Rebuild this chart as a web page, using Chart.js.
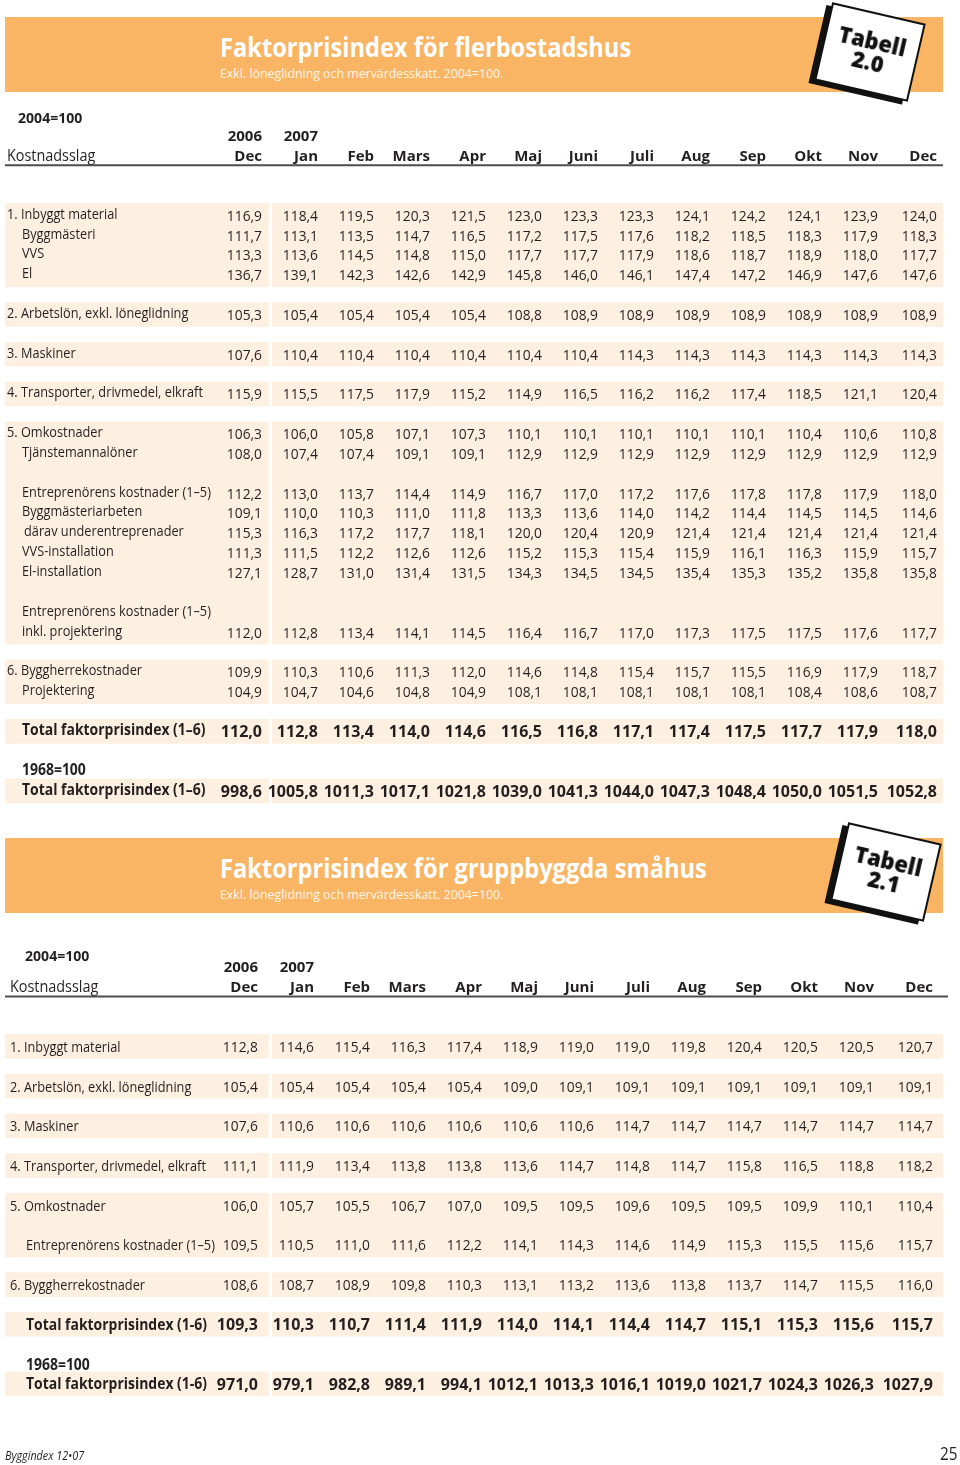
<!DOCTYPE html>
<html>
<head>
<meta charset="utf-8">
<script src="https://cdn.jsdelivr.net/npm/chart.js@4.4.1/dist/chart.umd.min.js"></script>
<style>
  body { margin: 0; background: #fff; width: 960px; height: 1465px; position: relative; overflow: hidden; font-family: 'Open Sans', sans-serif; color: #231f20; }
  #page { position: absolute; left: 0; top: 0; }
  .banner { position: absolute; left: 5px; width: 938px; height: 75px; background: #f9b563; }
  .title { position: absolute; left: 215px; top: 17px; color: #fff; font: 700 26px/26px 'Open Sans'; transform: scaleX(0.91); transform-origin: 0 0; white-space: nowrap; }
  .sub { position: absolute; left: 215px; top: 50px; color: #fff5e8; font: 400 13px/13px 'Open Sans'; transform: scaleX(0.95); transform-origin: 0 0; white-space: nowrap; }
  .card { position: absolute; width: 96px; height: 80px; background: #fff; border: 2px solid #111; box-shadow: -5px 4px 0 #111; transform: rotate(13deg); box-sizing: border-box; padding-top: 16px; }
  .card span { display: block; text-align: center; font: 800 22px/21px 'Open Sans'; color: #111; }
  .foot { position: absolute; top: 1447px; white-space: nowrap; }
</style>
</head>
<body>
<canvas id="page" width="960" height="1465"></canvas>

<div class="banner" style="top:17px">
  <div class="title">Faktorprisindex för flerbostadshus</div>
  <div class="sub">Exkl. löneglidning och mervärdesskatt. 2004=100.</div>
</div>
<div class="card" style="left:822px;top:12px"><span>Tabell</span><span>2.0</span></div>

<div class="banner" style="top:838px">
  <div class="title">Faktorprisindex för gruppbyggda småhus</div>
  <div class="sub">Exkl. löneglidning och mervärdesskatt. 2004=100.</div>
</div>
<div class="card" style="left:838px;top:832px"><span>Tabell</span><span>2.1</span></div>

<div class="foot" style="left:5px;font:italic 12px 'Open Sans';transform:scaleX(0.9);transform-origin:0 0">Byggindex 12•07</div>
<div class="foot" style="right:2px;top:1441px;font:400 18px 'Open Sans';transform:scaleX(0.85);transform-origin:100% 0">25</div>

<script>
// column headers
const months = ['Dec', 'Jan', 'Feb', 'Mars', 'Apr', 'Maj', 'Juni', 'Juli', 'Aug', 'Sep', 'Okt', 'Nov', 'Dec'];
const years = ['2006', '2007'];

// Tabell 2.0, flerbostadshus
const t1Labels = [
    '1. Inbyggt material', 'Byggmästeri', 'VVS', 'El',
    '2. Arbetslön, exkl. löneglidning', '3. Maskiner', '4. Transporter, drivmedel, elkraft',
    '5. Omkostnader', 'Tjänstemannalöner',
    'Entreprenörens kostnader (1–5)', 'Byggmästeriarbeten', 'därav underentreprenader', 'VVS-installation', 'El-installation',
    'Entreprenörens kostnader (1–5)', 'inkl. projektering',
    '6. Byggherrekostnader', 'Projektering',
    'Total faktorprisindex (1–6)', '1968=100', 'Total faktorprisindex (1–6)'
];
const t1Inbyggt = [116.9, 118.4, 119.5, 120.3, 121.5, 123.0, 123.3, 123.3, 124.1, 124.2, 124.1, 123.9, 124.0];
const t1Byggmasteri = [111.7, 113.1, 113.5, 114.7, 116.5, 117.2, 117.5, 117.6, 118.2, 118.5, 118.3, 117.9, 118.3];
const t1VVS = [113.3, 113.6, 114.5, 114.8, 115.0, 117.7, 117.7, 117.9, 118.6, 118.7, 118.9, 118.0, 117.7];
const t1El = [136.7, 139.1, 142.3, 142.6, 142.9, 145.8, 146.0, 146.1, 147.4, 147.2, 146.9, 147.6, 147.6];
const t1Arbetslon = [105.3, 105.4, 105.4, 105.4, 105.4, 108.8, 108.9, 108.9, 108.9, 108.9, 108.9, 108.9, 108.9];
const t1Maskiner = [107.6, 110.4, 110.4, 110.4, 110.4, 110.4, 110.4, 114.3, 114.3, 114.3, 114.3, 114.3, 114.3];
const t1Transporter = [115.9, 115.5, 117.5, 117.9, 115.2, 114.9, 116.5, 116.2, 116.2, 117.4, 118.5, 121.1, 120.4];
const t1Omkostnader = [106.3, 106.0, 105.8, 107.1, 107.3, 110.1, 110.1, 110.1, 110.1, 110.1, 110.4, 110.6, 110.8];
const t1Tjanstemannaloner = [108.0, 107.4, 107.4, 109.1, 109.1, 112.9, 112.9, 112.9, 112.9, 112.9, 112.9, 112.9, 112.9];
const t1Entreprenor = [112.2, 113.0, 113.7, 114.4, 114.9, 116.7, 117.0, 117.2, 117.6, 117.8, 117.8, 117.9, 118.0];
const t1Byggmasteriarbeten = [109.1, 110.0, 110.3, 111.0, 111.8, 113.3, 113.6, 114.0, 114.2, 114.4, 114.5, 114.5, 114.6];
const t1Underentreprenader = [115.3, 116.3, 117.2, 117.7, 118.1, 120.0, 120.4, 120.9, 121.4, 121.4, 121.4, 121.4, 121.4];
const t1VVSinstallation = [111.3, 111.5, 112.2, 112.6, 112.6, 115.2, 115.3, 115.4, 115.9, 116.1, 116.3, 115.9, 115.7];
const t1ElInstallation = [127.1, 128.7, 131.0, 131.4, 131.5, 134.3, 134.5, 134.5, 135.4, 135.3, 135.2, 135.8, 135.8];
const t1EntrInklProj = [112.0, 112.8, 113.4, 114.1, 114.5, 116.4, 116.7, 117.0, 117.3, 117.5, 117.5, 117.6, 117.7];
const t1Byggherre = [109.9, 110.3, 110.6, 111.3, 112.0, 114.6, 114.8, 115.4, 115.7, 115.5, 116.9, 117.9, 118.7];
const t1Projektering = [104.9, 104.7, 104.6, 104.8, 104.9, 108.1, 108.1, 108.1, 108.1, 108.1, 108.4, 108.6, 108.7];
const t1Total = [112.0, 112.8, 113.4, 114.0, 114.6, 116.5, 116.8, 117.1, 117.4, 117.5, 117.7, 117.9, 118.0];
const t1Total1968 = [998.6, 1005.8, 1011.3, 1017.1, 1021.8, 1039.0, 1041.3, 1044.0, 1047.3, 1048.4, 1050.0, 1051.5, 1052.8];

// Tabell 2.1, gruppbyggda småhus
const t2Labels = [
    '1. Inbyggt material', '2. Arbetslön, exkl. löneglidning', '3. Maskiner',
    '4. Transporter, drivmedel, elkraft', '5. Omkostnader', 'Entreprenörens kostnader (1–5)',
    '6. Byggherrekostnader', 'Total faktorprisindex (1-6)', '1968=100', 'Total faktorprisindex (1-6)'
];
const t2Inbyggt = [112.8, 114.6, 115.4, 116.3, 117.4, 118.9, 119.0, 119.0, 119.8, 120.4, 120.5, 120.5, 120.7];
const t2Arbetslon = [105.4, 105.4, 105.4, 105.4, 105.4, 109.0, 109.1, 109.1, 109.1, 109.1, 109.1, 109.1, 109.1];
const t2Maskiner = [107.6, 110.6, 110.6, 110.6, 110.6, 110.6, 110.6, 114.7, 114.7, 114.7, 114.7, 114.7, 114.7];
const t2Transporter = [111.1, 111.9, 113.4, 113.8, 113.8, 113.6, 114.7, 114.8, 114.7, 115.8, 116.5, 118.8, 118.2];
const t2Omkostnader = [106.0, 105.7, 105.5, 106.7, 107.0, 109.5, 109.5, 109.6, 109.5, 109.5, 109.9, 110.1, 110.4];
const t2Entreprenor = [109.5, 110.5, 111.0, 111.6, 112.2, 114.1, 114.3, 114.6, 114.9, 115.3, 115.5, 115.6, 115.7];
const t2Byggherre = [108.6, 108.7, 108.9, 109.8, 110.3, 113.1, 113.2, 113.6, 113.8, 113.7, 114.7, 115.5, 116.0];
const t2Total = [109.3, 110.3, 110.7, 111.4, 111.9, 114.0, 114.1, 114.4, 114.7, 115.1, 115.3, 115.6, 115.7];
const t2Total1968 = [971.0, 979.1, 982.8, 989.1, 994.1, 1012.1, 1013.3, 1016.1, 1019.0, 1021.7, 1024.3, 1026.3, 1027.9];

// layout: which grid row each label / series sits on
const ROW = 19.85, ROW0 = 215.3, COL = 56;
const W = 960, H = 1465;

const tables = [
    {
        axis: 'x1', shift: 0, labelX: 7, indentX: 22, baseX: 18, lineEnd: 943, labelDy: -2, baseRow: -4.9,
        labels: t1Labels,
        labelRows: [0, 1, 2, 3, 5, 7, 9, 11, 12, 14, 15, 16, 17, 18, 20, 21, 23, 24, 26, 28, 29],
        series: [t1Inbyggt, t1Byggmasteri, t1VVS, t1El, t1Arbetslon, t1Maskiner, t1Transporter,
                 t1Omkostnader, t1Tjanstemannaloner, t1Entreprenor, t1Byggmasteriarbeten, t1Underentreprenader,
                 t1VVSinstallation, t1ElInstallation, t1EntrInklProj, t1Byggherre, t1Projektering, t1Total, t1Total1968],
        seriesRows: [0, 1, 2, 3, 5, 7, 9, 11, 12, 14, 15, 16, 17, 18, 21, 23, 24, 26, 29],
        boldRows: [26, 28, 29],
        bands: [[0, 3], [5, 5], [7, 7], [9, 9], [11, 21], [23, 24], [26, 26], [29, 29]]
    },
    {
        axis: 'x2', shift: 41.87, labelX: 10, indentX: 26, baseX: 25, lineEnd: 948, labelDy: 0, baseRow: -4.56,
        labels: t2Labels,
        labelRows: [0, 2, 4, 6, 8, 10, 12, 14, 16, 17],
        series: [t2Inbyggt, t2Arbetslon, t2Maskiner, t2Transporter, t2Omkostnader, t2Entreprenor,
                 t2Byggherre, t2Total, t2Total1968],
        seriesRows: [0, 2, 4, 6, 8, 10, 12, 14, 17],
        boldRows: [14, 16, 17],
        bands: [[0, 0], [2, 2], [4, 4], [6, 6], [8, 10], [12, 12], [14, 14], [17, 17]]
    }
];

const fmt = v => v.toFixed(1).replace('.', ',');
const INK = '#231f20';
const BAND = '#fdf0e1';

function drawText(ctx, text, x, y, font, align, sx) {
    ctx.save();
    ctx.font = font;
    ctx.fillStyle = INK;
    ctx.textAlign = align;
    ctx.textBaseline = 'alphabetic';
    ctx.translate(x, y);
    ctx.scale(sx, 1);
    ctx.fillText(text, 0, 0);
    ctx.restore();
}

const datasets = [];
tables.forEach(t => {
    t.series.forEach((vals, k) => {
        const row = t.seriesRows[k];
        datasets.push({
            xAxisID: t.axis,
            values: vals,
            bold: t.boldRows.includes(row),
            data: vals.map((v, i) => ({ x: i, y: t.shift + row })),
            pointRadius: 0,
            pointHoverRadius: 0
        });
    });
});

const tablePlugin = {
    id: 'tablePlugin',
    beforeDatasetsDraw(chart) {
        const ctx = chart.ctx;
        const y = chart.scales.y;
        tables.forEach(t => {
            const x = chart.scales[t.axis];
            const py = r => y.getPixelForValue(t.shift + r);

            // row bands, split after the 2006 column
            ctx.fillStyle = BAND;
            t.bands.forEach(([a, b]) => {
                const top = py(a - 0.62), bot = py(b + 0.62);
                ctx.fillRect(5, top, 264, bot - top);
                ctx.fillRect(272, top, 943 - 272, bot - top);
            });

            // header
            drawText(ctx, '2004=100', t.baseX, py(t.baseRow) + 5, '700 14.5px "Open Sans"', 'left', 0.97);
            years.forEach((yr, i) => drawText(ctx, yr, x.getPixelForValue(i), py(-4) + 5.4, '700 15px "Open Sans"', 'right', 1));
            months.forEach((m, i) => drawText(ctx, m, x.getPixelForValue(i) + (i === 12 ? 3 : 0), py(-3) + 5.4, '700 15px "Open Sans"', 'right', 1));
            drawText(ctx, 'Kostnadsslag', t.labelX, py(-3) + 5.4, '400 16px "Open Sans"', 'left', 0.9);
            ctx.strokeStyle = '#4d4d4d';
            ctx.lineWidth = 2;
            ctx.beginPath();
            ctx.moveTo(5, py(-2.52));
            ctx.lineTo(t.lineEnd, py(-2.52));
            ctx.stroke();

            // row labels
            t.labels.forEach((lab, k) => {
                const row = t.labelRows[k];
                const bold = t.boldRows.includes(row);
                const lx = /^\d\./.test(lab) ? t.labelX : t.indentX + (lab.startsWith('därav') ? 2 : 0);
                if (bold) {
                    drawText(ctx, lab, lx, py(row) + 5.6 + t.labelDy, '700 15.5px "Open Sans"', 'left', 0.9);
                } else {
                    drawText(ctx, lab, lx, py(row) + 5.4 + t.labelDy, '400 15px "Open Sans"', 'left', 0.85);
                }
            });
        });
    },
    afterDatasetsDraw(chart) {
        const ctx = chart.ctx;
        chart.data.datasets.forEach((ds, i) => {
            const meta = chart.getDatasetMeta(i);
            meta.data.forEach((el, j) => {
                const tx = el.x + (j === 12 ? 3 : 0);
                if (ds.bold) {
                    drawText(ctx, fmt(ds.values[j]), tx, el.y + 5.7, '700 16px "Open Sans"', 'right', 1);
                } else {
                    drawText(ctx, fmt(ds.values[j]), tx, el.y + 5.4, '400 15px "Open Sans"', 'right', 0.92);
                }
            });
        });
    }
};

new Chart(document.getElementById('page').getContext('2d'), {
    type: 'scatter',
    data: { datasets },
    options: {
        responsive: false,
        animation: false,
        devicePixelRatio: 1,
        events: [],
        layout: { padding: 0 },
        plugins: { legend: { display: false }, tooltip: { enabled: false } },
        scales: {
            x1: { type: 'linear', position: 'bottom', display: false, min: -262 / COL, max: (W - 262) / COL },
            x2: { type: 'linear', position: 'bottom', display: false, min: -258 / COL, max: (W - 258) / COL },
            y: { type: 'linear', display: false, reverse: true, min: -ROW0 / ROW, max: (H - ROW0) / ROW }
        }
    },
    plugins: [tablePlugin]
});
</script>
</body>
</html>
